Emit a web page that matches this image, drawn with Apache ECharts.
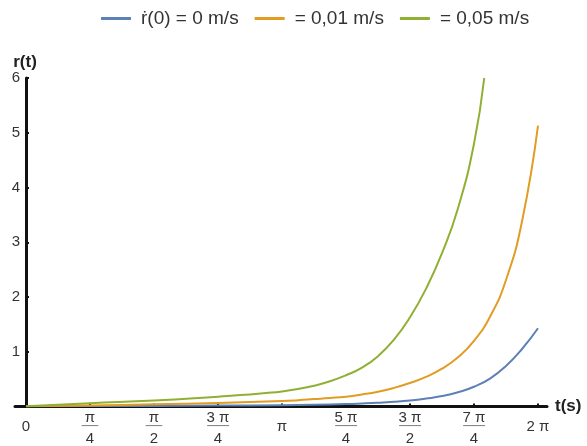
<!DOCTYPE html>
<html><head><meta charset="utf-8">
<script src="https://cdn.jsdelivr.net/npm/echarts@6/dist/echarts.min.js"></script>
<style>html,body{margin:0;padding:0;background:#fff}#c{width:587px;height:446px}</style>
</head><body><div id="c"></div>
<script>
// series names (legend)
const seriesNames = ['ṙ(0) = 0 m/s', '= 0,01 m/s', '= 0,05 m/s'];
// x tick positions in units of π/4, and their labels
const tickQuarterPi = [0, 1, 2, 3, 4, 5, 6, 7, 8];
const tickNumerators = ['0', 'π', 'π', '3 π', 'π', '5 π', '3 π', '7 π', '2 π'];
const tickDenominators = ['', '4', '2', '4', '', '4', '2', '4', ''];
// curves: t in units of π/4, r(t)
const blueT = [0, 1, 2, 3, 4, 4.5, 5, 5.25, 5.5, 5.75, 6, 6.25, 6.5, 6.75, 7, 7.25, 7.5, 7.75, 8];
const blueR = [0.005, 0.007, 0.01, 0.016, 0.025, 0.033, 0.045, 0.055, 0.068, 0.086, 0.11, 0.145, 0.19, 0.26, 0.36, 0.51, 0.74, 1.05, 1.43];
const orangeT = [0, 1, 2, 3, 4, 4.25, 4.5, 4.75, 5, 5.25, 5.5, 5.75, 6, 6.25, 6.5, 6.75, 7, 7.25, 7.5, 7.75, 8];
const orangeR = [0.005, 0.02, 0.04, 0.065, 0.1, 0.115, 0.135, 0.155, 0.18, 0.22, 0.27, 0.34, 0.43, 0.54, 0.69, 0.9, 1.2, 1.64, 2.31, 3.38, 5.13];
const greenT = [0, 1, 2, 3, 3.25, 3.5, 3.75, 4, 4.25, 4.5, 4.75, 5, 5.25, 5.5, 5.75, 6, 6.25, 6.5, 6.75, 7.0, 7.16];
const greenR = [0.005, 0.06, 0.11, 0.18, 0.2, 0.22, 0.245, 0.275, 0.32, 0.38, 0.46, 0.57, 0.71, 0.92, 1.22, 1.63, 2.15, 2.8, 3.62, 4.8, 6.0];

const Q = Math.PI / 4;
const toPairs = (ts, rs) => ts.map((u, i) => [u * Q, rs[i]]);
const tickValues = tickQuarterPi.map(u => u * Q);
const FONT = "'Liberation Sans', Arial, 'DejaVu Sans', sans-serif";
const colors = ['#5e81b5', '#e19c24', '#8fb032'];

const chart = echarts.init(document.getElementById('c'), null, {renderer: 'canvas'});
chart.setOption({
  animation: false,
  color: colors,
  textStyle: {fontFamily: FONT},
  legend: {
    top: 4, left: 96,
    icon: 'rect',
    itemWidth: 30, itemHeight: 3, itemGap: 16,
    textStyle: {fontSize: 19, color: '#333', fontFamily: FONT, padding: [0, 0, 0, 5]},
    data: seriesNames
  },
  grid: {left: 15, right: 40, top: 78, bottom: 38, containLabel: false},
  xAxis: {
    type: 'value',
    min: -11 * Math.PI / 256,
    max: 521 * Math.PI / 256,
    name: 't(s)', nameLocation: 'end', nameGap: 8,
    nameTextStyle: {fontSize: 17, fontWeight: 'bold', color: '#222', fontFamily: FONT, verticalAlign: 'middle', padding: [4, 0, 0, 0]},
    axisLine: {show: true, onZero: false, lineStyle: {color: '#111', width: 3}},
    axisTick: {show: true, inside: true, length: 3, customValues: tickValues, lineStyle: {color: '#111', width: 2}},
    splitLine: {show: false},
    axisLabel: {
      show: true, margin: 4, customValues: tickValues,
      formatter: function (v) {
        let i = tickValues.findIndex(t => Math.abs(t - v) < 1e-6);
        if (i < 0) return '';
        if (!tickDenominators[i]) return '{single|' + tickNumerators[i] + '}';
        const bar = tickNumerators[i].length > 1 ? '────' : '───';
        return '{num|' + tickNumerators[i] + '}\n{bar|' + bar + '}\n{den|' + tickDenominators[i] + '}';
      },
      rich: {
        single: {fontSize: 15, lineHeight: 32, color: '#333', fontFamily: FONT},
        num: {fontSize: 15, lineHeight: 14, color: '#333', fontFamily: FONT, align: 'center'},
        bar: {fontSize: 9, lineHeight: 4, color: '#555', fontFamily: "'DejaVu Sans Mono', 'DejaVu Sans', monospace", align: 'center'},
        den: {fontSize: 15, lineHeight: 20, color: '#333', fontFamily: FONT, align: 'center'}
      }
    }
  },
  yAxis: {
    type: 'value', min: 0, max: 6, interval: 1,
    name: 'r(t)', nameLocation: 'end', nameGap: 5,
    nameTextStyle: {fontSize: 17, fontWeight: 'bold', color: '#222', fontFamily: FONT, align: 'center', padding: [0, 2, 0, 0]},
    axisLine: {show: true, onZero: true, lineStyle: {color: '#111', width: 3}},
    axisTick: {show: true, inside: true, length: 3, lineStyle: {color: '#111', width: 2}},
    splitLine: {show: false},
    axisLabel: {show: true, margin: -5, showMinLabel: false, fontSize: 15, color: '#333', fontFamily: FONT}
  },
  series: [
    {name: seriesNames[0], type: 'line', data: toPairs(blueT, blueR), smooth: 0.5, symbol: 'none', lineStyle: {width: 2}},
    {name: seriesNames[1], type: 'line', data: toPairs(orangeT, orangeR), smooth: 0.5, symbol: 'none', lineStyle: {width: 2}},
    {name: seriesNames[2], type: 'line', data: toPairs(greenT, greenR), smooth: 0.5, symbol: 'none', lineStyle: {width: 2}}
  ]
});
</script></body></html>
